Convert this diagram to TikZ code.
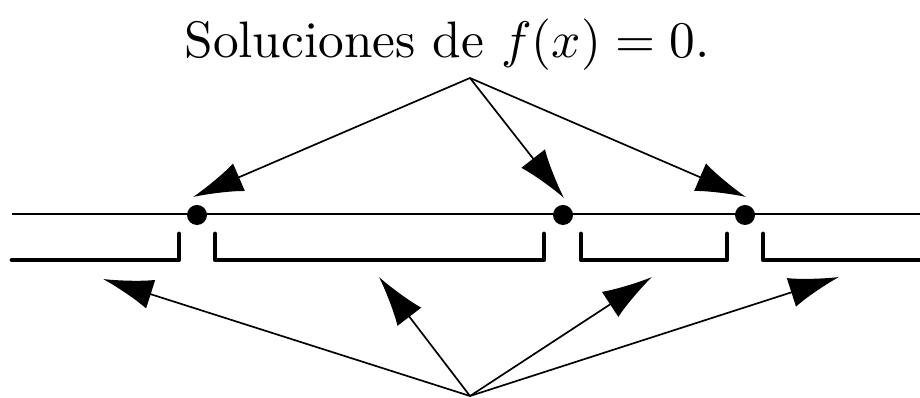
\documentclass[tikz,border=0pt]{standalone}
\usetikzlibrary{arrows.meta}
\begin{document}
\begin{tikzpicture}[x=0.025cm,y=-0.025cm,
  thin line/.style={line width=1.4pt},
  bracket/.style={line width=3.4pt,line cap=round,line join=round},
  arr/.style={line width=1.2pt,-{Latex[length=1.25cm,width=0.75cm]}},
  dot/.style={circle,fill=black,inner sep=0pt,minimum size=0.5cm}]
\useasboundingbox (0,0) rectangle (920,398);
\node[anchor=base,inner sep=0pt] (title) at (447,58) {\scalebox{3.65}{Soluciones de $f(x)=0.$}};
\coordinate (top) at (470,78);
\coordinate (bot) at (470,396);
\coordinate (l) at (12,214);
\coordinate (r) at (920,214);
\draw[thin line] (l) -- (r);
\node[dot] (d1) at (197,215) {};
\node[dot] (d2) at (563,215) {};
\node[dot] (d3) at (745,215) {};
% brackets
\draw[bracket] (12,260) -- (179,260) -- (179,234);
\draw[bracket] (215,234) -- (215,260) -- (544,260) -- (544,234);
\draw[bracket] (581,234) -- (581,260) -- (727,260) -- (727,234);
\draw[bracket] (763,234) -- (763,260) -- (920,260);
% top arrows
\coordinate (t1) at (193,197);
\coordinate (t2) at (564,198);
\coordinate (t3) at (746,197);
\draw[arr] (top) -- (t1);
\draw[arr] (top) -- (t2);
\draw[arr] (top) -- (t3);
% bottom arrows
\coordinate (b1) at (103,279);
\coordinate (b2) at (379,277);
\coordinate (b3) at (652,277);
\coordinate (b4) at (839,277);
\draw[arr] (bot) -- (b1);
\draw[arr] (bot) -- (b2);
\draw[arr] (bot) -- (b3);
\draw[arr] (bot) -- (b4);
\end{tikzpicture}
\end{document}
